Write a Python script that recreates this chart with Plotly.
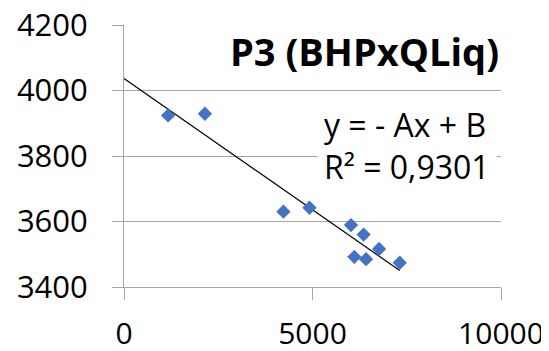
import numpy as np
import plotly.graph_objects as go

# Data
qliq = [1170, 2146, 4229, 4920, 6021, 6357, 6766, 6109, 6420, 7314]
bhp = [3924, 3929, 3630, 3642, 3589, 3560, 3516, 3492, 3485, 3474]
x_ticks = [0, 5000, 10000]
y_ticks = [3400, 3600, 3800, 4000, 4200]
title_text = "P3 (BHPxQLiq)"
eq_text = "y = - Ax + B<br>R² = 0,9301"

# Linear trendline (least squares) from x=0 to max x
slope, intercept = np.polyfit(qliq, bhp, 1)
tx = np.array([0, max(qliq)])
ty = slope * tx + intercept

FONT = "Open Sans"
GRID = "#a6a6a6"

fig = go.Figure()
fig.add_trace(go.Scatter(
    x=tx, y=ty, mode="lines",
    line=dict(color="black", width=1.2),
    hoverinfo="skip", showlegend=False,
))
fig.add_trace(go.Scatter(
    x=qliq, y=bhp, mode="markers",
    marker=dict(symbol="diamond", size=11, color="#4472C4"),
    showlegend=False,
))

fig.update_layout(
    width=549, height=351,
    margin=dict(l=116, r=56, t=17, b=72),
    paper_bgcolor="white", plot_bgcolor="white",
    font=dict(family=FONT, size=31, color="black"),
    xaxis=dict(
        range=[0, 10000], tickvals=x_ticks, ticktext=[str(v) for v in x_ticks],
        showgrid=False, zeroline=False, automargin=False,
        showline=True, linecolor=GRID, linewidth=1,
        ticks="outside", ticklen=12, tickcolor=GRID, tickwidth=1,
        tickfont=dict(family=FONT, size=30), ticklabelstandoff=8,
        ticklabeloverflow="allow",
    ),
    yaxis=dict(
        range=[3400, 4200], tickvals=y_ticks, ticktext=[str(v) for v in y_ticks],
        showgrid=True, gridcolor=GRID, gridwidth=1, zeroline=False, automargin=False,
        showline=True, linecolor=GRID, linewidth=1,
        ticks="outside", ticklen=11, tickcolor=GRID, tickwidth=1,
        tickfont=dict(family=FONT, size=31), ticklabelstandoff=18,
        ticklabeloverflow="allow",
    ),
)

fig.add_annotation(
    xref="paper", yref="paper", x=1.0, y=0.9,
    xanchor="right", yanchor="middle",
    text="<b>" + title_text + "</b>", showarrow=False,
    font=dict(family=FONT, size=38, color="black"),
)
fig.add_annotation(
    xref="paper", yref="paper", x=0.512, y=0.54,
    xanchor="left", yanchor="middle", align="left",
    text=eq_text, showarrow=False,
    bgcolor="white", borderpad=6,
    font=dict(family=FONT, size=32, color="black"),
)

fig.write_html("out.html")
